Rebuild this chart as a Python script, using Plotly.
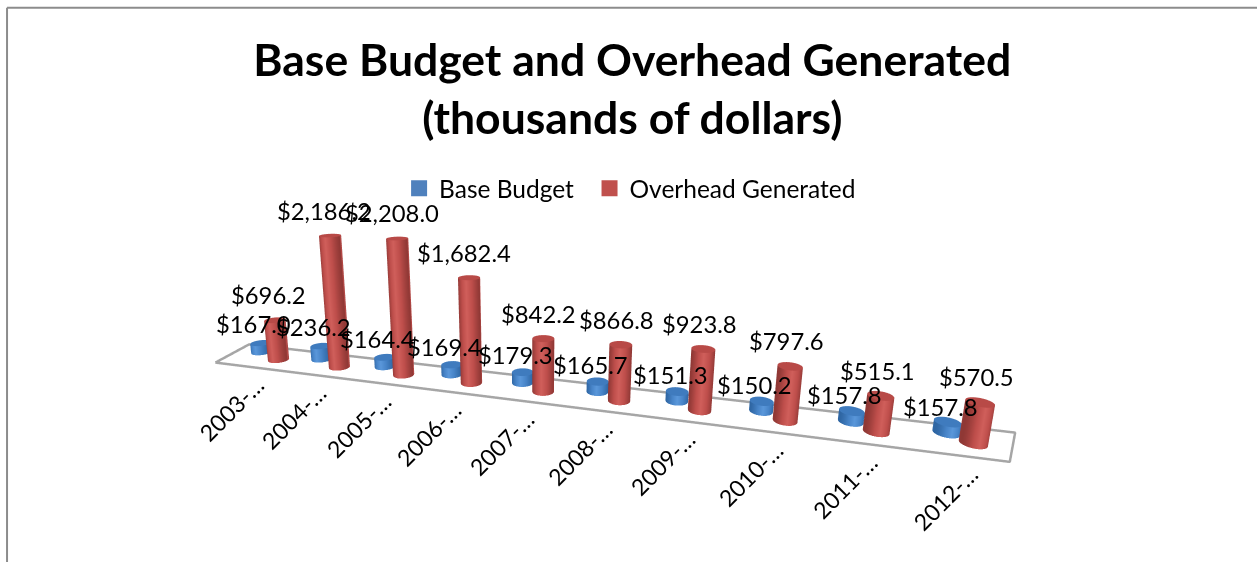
import numpy as np
import plotly.graph_objects as go

categories = ["2003-…", "2004-…", "2005-…", "2006-…", "2007-…",
              "2008-…", "2009-…", "2010-…", "2011-…", "2012-…"]
base_budget = [167.0, 236.2, 164.4, 169.4, 179.3, 165.7, 151.3, 150.2, 157.8, 157.8]
overhead = [696.2, 2186.2, 2208.0, 1682.4, 842.2, 866.8, 923.8, 797.6, 515.1, 570.5]
series_names = ["Base Budget", "Overhead Generated"]
title_text = "Base Budget and Overhead Generated<br>(thousands of dollars)"

BLUE = "#4F81BD"
RED = "#C0504D"
FONT = "Lato"

# Scene proportions and axis ranges
ASPECT = dict(x=2.893, y=0.273, z=0.85)
X_RANGE = [-1.0, 10.0]
Y_RANGE = [-0.15, 1.15]
Z_RANGE = [0.0, 3770.0]
RADIUS = 0.037            # cylinder radius in scene units
YAW = np.radians(15)
PITCH = np.radians(12.8)
DIST = 2.2
ROLL = 0.013
BLUE_ROW = 0.70           # depth of the back row of cylinders
RED_ROW = 0.45            # depth of the front row of cylinders

right = np.array([np.cos(YAW), np.sin(YAW), 0.0])
up_vec = np.array([0.0, 0.0, 1.0]) - ROLL * right
eye = dict(x=DIST * np.cos(PITCH) * np.sin(YAW),
           y=-DIST * np.cos(PITCH) * np.cos(YAW),
           z=DIST * np.sin(PITCH))
rx = RADIUS * (X_RANGE[1] - X_RANGE[0]) / ASPECT["x"]
ry = RADIUS * (Y_RANGE[1] - Y_RANGE[0]) / ASPECT["y"]
theta = np.linspace(0, 2 * np.pi, 49)
# Shade around each cylinder by how far the side faces the viewer's right
side_shade = np.cos(theta - YAW)


def cylinder(xc, yc, height, colorscale):
    ct, st = np.cos(theta), np.sin(theta)
    radial = np.array([1.0, 1.0, 1.0, 0.0])
    x = xc + rx * np.outer(radial, ct)
    y = yc + ry * np.outer(radial, st)
    z = np.outer(np.array([0.0, height, height, height]), np.ones_like(theta))
    shade = np.vstack([side_shade, side_shade,
                       np.full_like(theta, 1.3), np.full_like(theta, 1.3)])
    return go.Surface(x=x, y=y, z=z, surfacecolor=shade, cmin=-1, cmax=1.3,
                      colorscale=colorscale, showscale=False, hoverinfo="skip",
                      lighting=dict(ambient=1, diffuse=0, specular=0, fresnel=0),
                      showlegend=False)


def ramp(dark, mid, light, cap):
    return [[0.0, dark], [0.2, mid], [0.38, light], [0.6, mid], [0.86, dark],
            [0.87, cap], [1.0, cap]]


blue_scale = ramp("#2F66A3", "#4784C8", "#5A97DA", "#3F7BBE")
red_scale = ramp("#8F3835", "#BE4E4B", "#D05F5B", "#B84A47")

fig = go.Figure()

# Floor outline, its back edge reaching a little further out on both sides
fx = [-0.6, 9.42, 9.72, -0.7, -0.6]
fy = [0.0, 0.0, 1.0, 1.0, 0.0]
fig.add_trace(go.Scatter3d(x=fx, y=fy, z=[0] * 5, mode="lines",
                           line=dict(color="#A6A6A6", width=5),
                           hoverinfo="skip", showlegend=False))

annotations = []
for i, cat in enumerate(categories):
    red_x = i + 0.17
    blue_x = red_x - (0.45 - 0.025 * i)
    fig.add_trace(cylinder(blue_x, BLUE_ROW, base_budget[i], blue_scale))
    fig.add_trace(cylinder(red_x, RED_ROW, overhead[i], red_scale))
    annotations.append(dict(x=blue_x, y=BLUE_ROW, z=base_budget[i],
                            text=f"${base_budget[i]:,.1f}", showarrow=False,
                            xshift=-7, yshift=19 - 0.4 * i,
                            font=dict(family=FONT, size=23.8, color="black")))
    annotations.append(dict(x=red_x, y=RED_ROW, z=overhead[i],
                            text=f"${overhead[i]:,.1f}", showarrow=False,
                            xshift=-6 + 0.3 * i, yshift=25,
                            font=dict(family=FONT, size=23.8, color="black")))
    annotations.append(dict(x=i, y=0.0, z=0, text=cat, showarrow=False,
                            textangle=-45, xshift=-20, yshift=-42,
                            font=dict(family=FONT, size=23, color="black")))

# Legend swatches, one legend per series so each can be placed on its own
for name, col, leg in zip(series_names, [BLUE, RED], ["legend", "legend2"]):
    fig.add_trace(go.Scatter3d(x=[None], y=[None], z=[None], mode="markers", name=name,
                               legend=leg,
                               marker=dict(symbol="square", size=16, color=col)))

hidden = dict(visible=False, showbackground=False, showgrid=False,
              zeroline=False, showspikes=False)
legend_font = dict(family=FONT, size=24.5, color="black")

fig.update_layout(
    width=1257, height=562,
    margin=dict(l=0, r=0, t=0, b=0),
    paper_bgcolor="white",
    title=dict(text=title_text, x=0.503, xanchor="center", y=0.865, yanchor="middle",
               font=dict(family=FONT, size=44.5, color="black", weight="bold")),
    legend=dict(orientation="h", x=0.3175, y=0.665, xanchor="left", yanchor="middle",
                font=legend_font, bgcolor="rgba(0,0,0,0)"),
    legend2=dict(orientation="h", x=0.469, y=0.665, xanchor="left", yanchor="middle",
                 font=legend_font, bgcolor="rgba(0,0,0,0)"),
    scene=dict(
        domain=dict(x=[0, 0.907], y=[0, 1]),
        aspectmode="manual",
        aspectratio=ASPECT,
        dragmode="orbit",
        camera=dict(eye=eye,
                    up=dict(x=up_vec[0], y=up_vec[1], z=up_vec[2]),
                    center=dict(x=0, y=0, z=-0.033),
                    projection=dict(type="perspective")),
        xaxis=dict(range=X_RANGE, **hidden),
        yaxis=dict(range=Y_RANGE, **hidden),
        zaxis=dict(range=Z_RANGE, **hidden),
        annotations=annotations,
    ),
    shapes=[
        dict(type="line", xref="paper", yref="paper", x0=0.0056, x1=1, y0=0.986, y1=0.986,
             line=dict(color="#8C8C8C", width=2)),
        dict(type="line", xref="paper", yref="paper", x0=0.0056, x1=0.0056, y0=0.986, y1=0,
             line=dict(color="#8C8C8C", width=2)),
    ],
)

fig.write_html("out.html")
